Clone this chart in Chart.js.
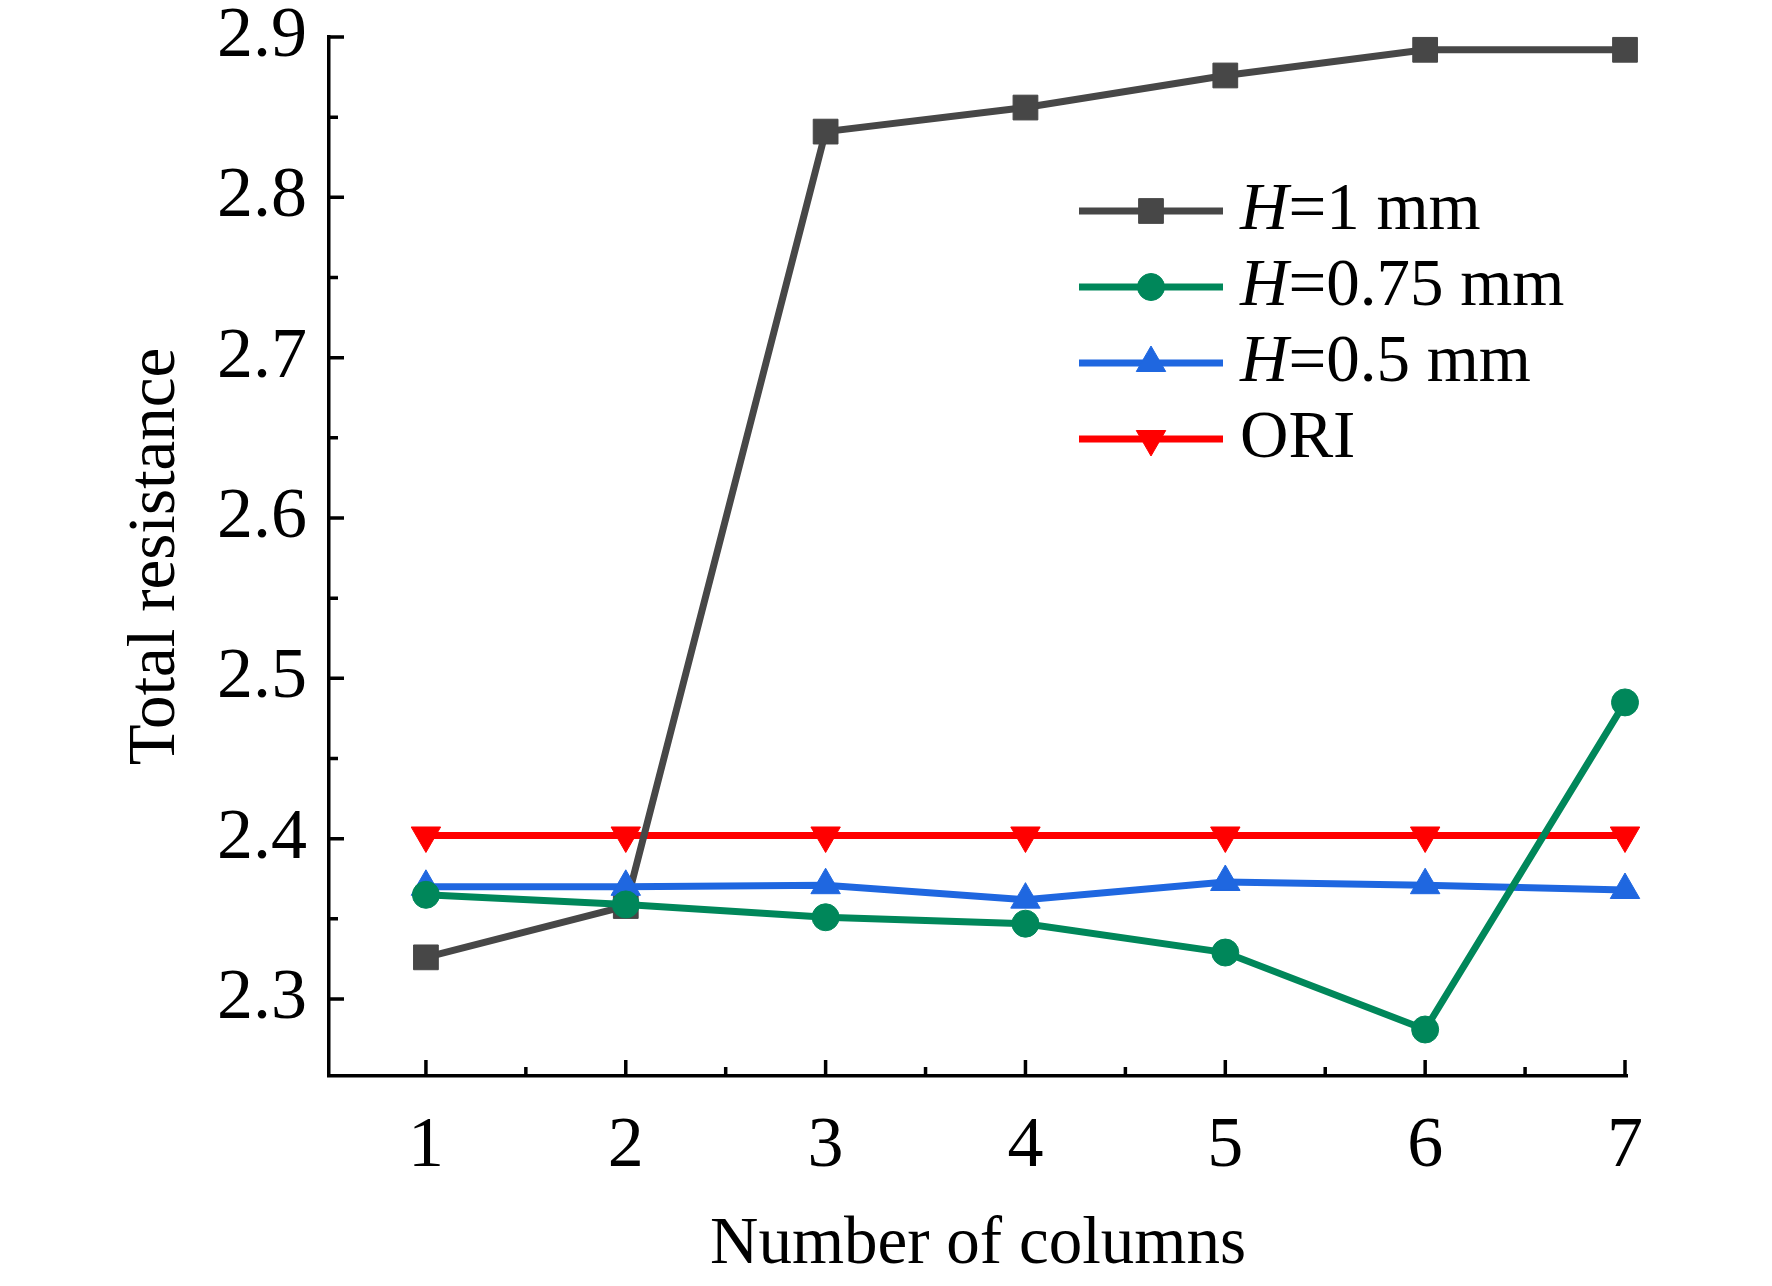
<!DOCTYPE html>
<html>
<head>
<meta charset="utf-8">
<script src="https://cdn.jsdelivr.net/npm/chart.js@4.4.1/dist/chart.umd.min.js"></script>
<style>
  html, body { margin: 0; padding: 0; background: #fff; }
  #wrap { width: 1772px; height: 1286px; position: relative; }
</style>
</head>
<body>
<div id="wrap"><canvas id="chart" width="1772" height="1286"></canvas></div>
<script>
// values
const columns = [1, 2, 3, 4, 5, 6, 7];
const h1mm   = [2.326, 2.358, 2.841, 2.856, 2.876, 2.892, 2.892];
const h075mm = [2.365, 2.359, 2.351, 2.347, 2.329, 2.281, 2.485];
const h05mm  = [2.370, 2.370, 2.371, 2.362, 2.373, 2.371, 2.368];
const ori    = [2.402, 2.402, 2.402, 2.402, 2.402, 2.402, 2.402];

const yTicks = [2.3, 2.4, 2.5, 2.6, 2.7, 2.8, 2.9];
const yMinor = [2.35, 2.45, 2.55, 2.65, 2.75, 2.85];
const xMinor = [1.5, 2.5, 3.5, 4.5, 5.5, 6.5];

const seriesNames = [
  { it: 'H', rest: '=1 mm' },
  { it: 'H', rest: '=0.75 mm' },
  { it: 'H', rest: '=0.5 mm' },
  { it: '', rest: 'ORI' }
];

const FONT = '"Liberation Serif", "DejaVu Serif", serif';

const toPoints = (vals) => columns.map((c, i) => ({ x: c, y: vals[i] }));

function series(label, vals, color, style, radius, rotation, order) {
  return {
    label: label,
    data: toPoints(vals),
    borderColor: color,
    backgroundColor: color,
    borderWidth: 7,
    pointStyle: style,
    pointRadius: radius,
    pointRotation: rotation,
    pointBorderWidth: 1,
    pointHoverRadius: radius,
    tension: 0,
    fill: false,
    clip: false,
    order: order
  };
}

// inward major/minor ticks on the two axis lines
const axisTicks = {
  id: 'axisTicks',
  afterDraw(chart) {
    const { ctx, chartArea } = chart;
    const xs = chart.scales.x, ys = chart.scales.y;
    ctx.save();
    ctx.strokeStyle = '#000';
    ctx.lineWidth = 3.5;
    ctx.beginPath();
    yTicks.forEach(v => {
      const y = ys.getPixelForValue(v);
      ctx.moveTo(chartArea.left, y); ctx.lineTo(chartArea.left + 15, y);
    });
    yMinor.forEach(v => {
      const y = ys.getPixelForValue(v);
      ctx.moveTo(chartArea.left, y); ctx.lineTo(chartArea.left + 9, y);
    });
    columns.forEach(v => {
      const x = xs.getPixelForValue(v);
      ctx.moveTo(x, chartArea.bottom); ctx.lineTo(x, chartArea.bottom - 16);
    });
    xMinor.forEach(v => {
      const x = xs.getPixelForValue(v);
      ctx.moveTo(x, chartArea.bottom); ctx.lineTo(x, chartArea.bottom - 9);
    });
    ctx.stroke();
    ctx.restore();
  }
};

// legend with italic H, drawn over the plot
const serifLegend = {
  id: 'serifLegend',
  afterDraw(chart) {
    const { ctx, chartArea } = chart;
    const x0 = chartArea.left + 750, x1 = x0 + 144, tx = x1 + 17;
    const y0 = chartArea.top + 174, dy = 76;
    ctx.save();
    ctx.textBaseline = 'middle';
    seriesNames.forEach((s, i) => {
      const ds = chart.data.datasets[i];
      const y = y0 + i * dy;
      ctx.strokeStyle = ds.borderColor;
      ctx.lineWidth = ds.borderWidth;
      ctx.beginPath(); ctx.moveTo(x0, y); ctx.lineTo(x1, y); ctx.stroke();
      ctx.fillStyle = ds.borderColor;
      ctx.lineWidth = 1;
      Chart.helpers.drawPoint(ctx, {
        pointStyle: ds.pointStyle, radius: ds.pointRadius,
        rotation: ds.pointRotation, borderWidth: 1
      }, (x0 + x1) / 2, y);
      ctx.fillStyle = '#000';
      let x = tx;
      if (s.it) {
        ctx.font = 'italic 67px ' + FONT;
        ctx.fillText(s.it, x, y);
        x += ctx.measureText(s.it).width;
      }
      ctx.font = '67px ' + FONT;
      ctx.fillText(s.rest, x, y);
    });
    ctx.restore();
  }
};

new Chart(document.getElementById('chart'), {
  type: 'line',
  data: {
    datasets: [
      series('H=1 mm', h1mm, '#474747', 'rect', 17.5, 0, 2),
      series('H=0.75 mm', h075mm, '#00875a', 'circle', 13.5, 0, 0),
      series('H=0.5 mm', h05mm, '#1f67e0', 'triangle', 17, 0, 1),
      series('ORI', ori, '#ff0000', 'triangle', 17, 180, 3)
    ]
  },
  options: {
    responsive: false,
    animation: false,
    devicePixelRatio: 1,
    layout: { padding: { left: 0, top: 37, right: 145, bottom: 0 } },
    scales: {
      x: {
        type: 'linear',
        min: 0.515,
        max: 7.01,
        afterBuildTicks: (s) => { s.ticks = columns.map(v => ({ value: v })); },
        afterFit: (s) => { s.height = 210; s.paddingLeft = 0; s.paddingRight = 0; },
        grid: { display: false, drawTicks: false },
        border: { display: true, color: '#000', width: 3.5 },
        ticks: {
          padding: 28,
          color: '#000',
          font: { family: FONT, size: 72 },
          maxRotation: 0
        },
        title: {
          display: true,
          text: 'Number of columns',
          color: '#000',
          font: { family: FONT, size: 67 },
          padding: { top: 0, bottom: 0 }
        }
      },
      y: {
        min: 2.252,
        max: 2.9,
        afterBuildTicks: (s) => { s.ticks = yTicks.map(v => ({ value: v })); },
        afterFit: (s) => { s.width = 329; s.paddingTop = 0; s.paddingBottom = 0; },
        grid: { display: false, drawTicks: false },
        border: { display: true, color: '#000', width: 3.5 },
        ticks: {
          padding: 22,
          color: '#000',
          font: { family: FONT, size: 72 },
          callback: (v) => v.toFixed(1)
        },
        title: {
          display: true,
          text: 'Total resistance',
          color: '#000',
          font: { family: FONT, size: 67 },
          padding: { top: 116, bottom: 0 }
        }
      }
    },
    plugins: {
      legend: { display: false },
      tooltip: { enabled: false }
    }
  },
  plugins: [axisTicks, serifLegend]
});
</script>
</body>
</html>
